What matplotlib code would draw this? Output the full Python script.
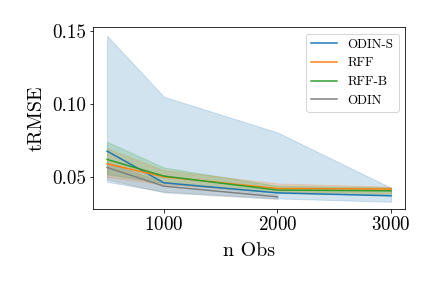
import numpy as np
import matplotlib
matplotlib.use("Agg")
import matplotlib.pyplot as plt

plt.rcParams['font.family'] = 'serif'
plt.rcParams['font.serif'] = ['cmr10']
plt.rcParams['mathtext.fontset'] = 'cm'
plt.rcParams['axes.formatter.use_mathtext'] = True

n_obs = [500, 1000, 2000, 3000]
n_obs_odin = [500, 1000, 2000]

odin_s = [0.0678, 0.0461, 0.0392, 0.0372]
odin_s_lo = [0.0468, 0.0400, 0.0354, 0.0331]
odin_s_hi = [0.1468, 0.1050, 0.0806, 0.0427]

rff = [0.0591, 0.0502, 0.0422, 0.0418]
rff_lo = [0.0500, 0.0450, 0.0400, 0.0390]
rff_hi = [0.0697, 0.0548, 0.0457, 0.0434]

rff_b = [0.0621, 0.0507, 0.0411, 0.0406]
rff_b_lo = [0.0520, 0.0460, 0.0390, 0.0380]
rff_b_hi = [0.0742, 0.0566, 0.0440, 0.0430]

odin = [0.0566, 0.0438, 0.0365]
odin_lo = [0.0484, 0.0395, 0.0350]
odin_hi = [0.0600, 0.0465, 0.0380]

fig, ax = plt.subplots(figsize=(6, 4), dpi=72)

series = [
    ("ODIN-S", n_obs, odin_s, odin_s_lo, odin_s_hi, "tab:blue"),
    ("RFF", n_obs, rff, rff_lo, rff_hi, "tab:orange"),
    ("RFF-B", n_obs, rff_b, rff_b_lo, rff_b_hi, "tab:green"),
    ("ODIN", n_obs_odin, odin, odin_lo, odin_hi, "tab:gray"),
]
for name, x, y, lo, hi, c in series:
    ax.plot(x, y, color=c, lw=1.5, label=name)
    ax.fill_between(x, lo, hi, color=c, alpha=0.2)

ax.set_xlabel("n Obs", fontsize=20, labelpad=8)
ax.set_ylabel("tRMSE", fontsize=20, labelpad=6)
ax.tick_params(labelsize=19)
ax.set_xticks([1000, 2000, 3000])
ax.set_yticks([0.05, 0.10, 0.15])
ax.set_yticklabels(["0.05", "0.10", "0.15"])
ax.set_ylim(0.0281, 0.1527)
ax.legend(loc="upper right", fontsize=13)

fig.subplots_adjust(left=0.215, right=0.938, top=0.906, bottom=0.274)
fig.savefig("out.png")
